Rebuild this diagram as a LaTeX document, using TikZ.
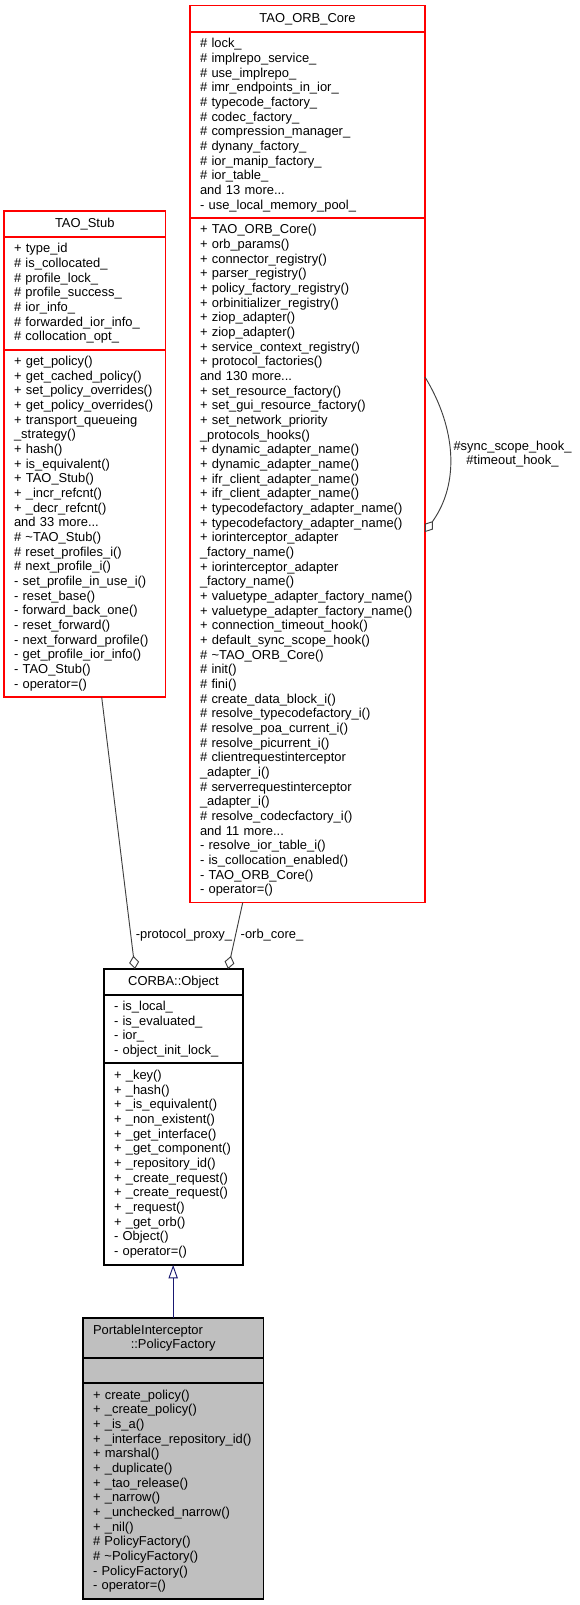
\documentclass[tikz,border=0pt]{standalone}
\usepackage{fontspec}
\setmainfont{Liberation Sans}
\usetikzlibrary{arrows.meta,positioning}

\definecolor{taored}{RGB}{255,0,0}
\definecolor{edgegrey}{RGB}{64,64,64}
\definecolor{inhblue}{RGB}{25,25,112}
\definecolor{grey75}{RGB}{191,191,191}
\newcommand{\umlfont}{\fontsize{9.7}{11}\selectfont}

\tikzset{
  classpart/.style={draw, anchor=north west, inner xsep=7.5pt, inner ysep=0pt,
    outer sep=0pt, align=left, font=\umlfont, line width=0.8pt},
  classtitle/.style={classpart, align=center},
  taobox/.style={draw=taored},
  plainbox/.style={draw=black},
  currentbox/.style={draw=black, fill=grey75},
  aggr/.style={draw=edgegrey, line width=0.7pt, -{Diamond[open, length=10pt, width=7.5pt]}},
  inherit/.style={draw=inhblue, line width=0.7pt, -{Triangle[open, length=10pt, width=7pt]}},
  edgelabel/.style={font=\umlfont, align=center, inner sep=0pt}
}

\begin{document}
\begin{tikzpicture}[x=0.75pt,y=-0.75pt]
\useasboundingbox (0,0) rectangle (579,1605);

% TAO_Stub
\node[classtitle, taobox, text width=106.1pt, minimum height=19.5pt] (stub-title) at (4,211) {TAO\_Stub};
\node[classpart, taobox, text width=106.1pt, minimum height=84.75pt, below=0pt of stub-title] (stub-attr)
  {+ type\_id\\\# is\_collocated\_\\\# profile\_lock\_\\\# profile\_success\_\\\# ior\_info\_\\\# forwarded\_ior\_info\_\\\# collocation\_opt\_};
\node[classpart, taobox, text width=106.1pt, minimum height=260.25pt, below=0pt of stub-attr] (stub-ops)
  {+ get\_policy()\\+ get\_cached\_policy()\\+ set\_policy\_overrides()\\+ get\_policy\_overrides()\\+ transport\_queueing\\\_strategy()\\+ hash()\\+ is\_equivalent()\\+ TAO\_Stub()\\+ \_incr\_refcnt()\\+ \_decr\_refcnt()\\and 33 more...\\\# \textasciitilde TAO\_Stub()\\\# reset\_profiles\_i()\\\# next\_profile\_i()\\- set\_profile\_in\_use\_i()\\- reset\_base()\\- forward\_back\_one()\\- reset\_forward()\\- next\_forward\_profile()\\- get\_profile\_ior\_info()\\- TAO\_Stub()\\- operator=()};

% TAO_ORB_Core
\node[classtitle, taobox, text width=161.25pt, minimum height=19.75pt] (core-title) at (190,5.7) {TAO\_ORB\_Core};
\node[classpart, taobox, text width=161.25pt, minimum height=139.5pt, below=0pt of core-title] (core-attr)
  {\# lock\_\\\# implrepo\_service\_\\\# use\_implrepo\_\\\# imr\_endpoints\_in\_ior\_\\\# typecode\_factory\_\\\# codec\_factory\_\\\# compression\_manager\_\\\# dynany\_factory\_\\\# ior\_manip\_factory\_\\\# ior\_table\_\\and 13 more...\\- use\_local\_memory\_pool\_};
\node[classpart, taobox, text width=161.25pt, minimum height=513.5pt, below=0pt of core-attr] (core-ops)
  {+ TAO\_ORB\_Core()\\+ orb\_params()\\+ connector\_registry()\\+ parser\_registry()\\+ policy\_factory\_registry()\\+ orbinitializer\_registry()\\+ ziop\_adapter()\\+ ziop\_adapter()\\+ service\_context\_registry()\\+ protocol\_factories()\\and 130 more...\\+ set\_resource\_factory()\\+ set\_gui\_resource\_factory()\\+ set\_network\_priority\\\_protocols\_hooks()\\+ dynamic\_adapter\_name()\\+ dynamic\_adapter\_name()\\+ ifr\_client\_adapter\_name()\\+ ifr\_client\_adapter\_name()\\+ typecodefactory\_adapter\_name()\\+ typecodefactory\_adapter\_name()\\+ iorinterceptor\_adapter\\\_factory\_name()\\+ iorinterceptor\_adapter\\\_factory\_name()\\+ valuetype\_adapter\_factory\_name()\\+ valuetype\_adapter\_factory\_name()\\+ connection\_timeout\_hook()\\+ default\_sync\_scope\_hook()\\\# \textasciitilde TAO\_ORB\_Core()\\\# init()\\\# fini()\\\# create\_data\_block\_i()\\\# resolve\_typecodefactory\_i()\\\# resolve\_poa\_current\_i()\\\# resolve\_picurrent\_i()\\\# clientrequestinterceptor\\\_adapter\_i()\\\# serverrequestinterceptor\\\_adapter\_i()\\\# resolve\_codecfactory\_i()\\and 11 more...\\- resolve\_ior\_table\_i()\\- is\_collocation\_enabled()\\- TAO\_ORB\_Core()\\- operator=()};

% CORBA::Object
\node[classtitle, plainbox, text width=89.25pt, minimum height=19.5pt] (obj-title) at (104,969) {CORBA::Object};
\node[classpart, plainbox, text width=89.25pt, minimum height=51pt, below=0pt of obj-title] (obj-attr)
  {- is\_local\_\\- is\_evaluated\_\\- ior\_\\- object\_init\_lock\_};
\node[classpart, plainbox, text width=89.25pt, minimum height=151.5pt, below=0pt of obj-attr] (obj-ops)
  {+ \_key()\\+ \_hash()\\+ \_is\_equivalent()\\+ \_non\_existent()\\+ \_get\_interface()\\+ \_get\_component()\\+ \_repository\_id()\\+ \_create\_request()\\+ \_create\_request()\\+ \_request()\\+ \_get\_orb()\\- Object()\\- operator=()};

% PortableInterceptor::PolicyFactory
\node[classtitle, currentbox, text width=120.25pt, minimum height=30pt] (pol-title) at (83,1318)
  {\makebox[120.25pt][l]{PortableInterceptor}\\::PolicyFactory};
\node[classpart, currentbox, text width=120.25pt, minimum height=18.75pt, below=0pt of pol-title] (pol-attr) {};
\node[classpart, currentbox, text width=120.25pt, minimum height=162pt, below=0pt of pol-attr] (pol-ops)
  {+ create\_policy()\\+ \_create\_policy()\\+ \_is\_a()\\+ \_interface\_repository\_id()\\+ marshal()\\+ \_duplicate()\\+ \_tao\_release()\\+ \_narrow()\\+ \_unchecked\_narrow()\\+ \_nil()\\\# PolicyFactory()\\\# \textasciitilde PolicyFactory()\\- PolicyFactory()\\- operator=()};

% Relations
\draw[aggr] ([xshift=12.7pt]stub-ops.south) -- ([xshift=-28.9pt]obj-title.north);
\draw[aggr] ([xshift=-48.6pt]core-ops.south) -- ([xshift=40.9pt]obj-title.north);
\draw[aggr] ([yshift=-119.25pt]core-ops.north east)
  .. controls +(23.25pt,-38.25pt) and +(26.25pt,36.75pt) .. ([yshift=-235.5pt]core-ops.north east);
\draw[inherit] (pol-title.north) -- (pol-title.north |- obj-ops.south);

% Labels
\node[edgelabel] (proxy-lbl) at (184,935) {-protocol\_proxy\_};
\node[edgelabel] (orb-lbl) at (272,935) {-orb\_core\_};
\node[edgelabel] (hooks-lbl) at (512.5,454) {\#sync\_scope\_hook\_\\\#timeout\_hook\_};

\end{tikzpicture}
\end{document}
